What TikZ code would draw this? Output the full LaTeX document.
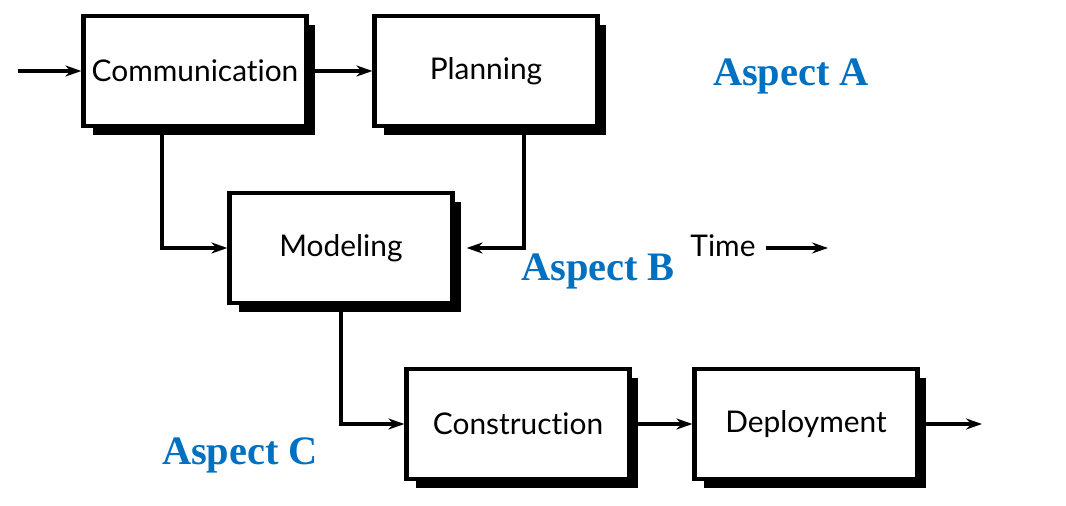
\documentclass[tikz,border=0pt]{standalone}
\usepackage{fontspec}
\usepackage{xcolor}
\usepackage{tikz}
\usetikzlibrary{shadows,arrows.meta}
\newfontfamily\boxfont[Ligatures=NoCommon]{Lato}
\newfontfamily\aspectfont{Liberation Serif}
\definecolor{aspectblue}{RGB}{0,112,192}

\begin{document}
\begin{tikzpicture}[x=0.02cm, y=-0.02cm,
  stagebox/.style={draw, line width=2.4pt, fill=white, minimum width=4.46cm, minimum height=2.2cm,
    font=\boxfont\fontsize{17}{20}\selectfont,
    drop shadow={shadow xshift=0.18cm, shadow yshift=-0.18cm, fill=black, opacity=1}},
  flow/.style={-{Stealth[length=0.32cm, width=0.22cm]}, line width=2.1pt},
  aspect/.style={font=\aspectfont\bfseries\fontsize{23}{26}\selectfont, text=aspectblue}]
\useasboundingbox (0,0) rectangle (1066,506);
\node[stagebox] (comm) at (195,71)  {Communication};
\node[stagebox] (plan) at (486,71)  {Planning};
\node[stagebox] (model) at (341,248) {Modeling};
\node[stagebox] (cons) at (518,424) {Construction};
\node[stagebox] (dep) at (806,424)  {Deployment};
\coordinate (in) at (18,71);
\coordinate (out) at (982,424);
\node[font=\boxfont\fontsize{17}{20}\selectfont] (time) at (723,246) {Time};
\coordinate (timeend) at (828,248);
\draw[flow] (in) -- (comm.west);
\draw[flow] (comm.east) -- (plan.west);
\draw[flow] ([xshift=-0.66cm]comm.south) |- (model.west);
\draw[flow] ([xshift=0.76cm]plan.south) |- ([xshift=0.24cm]model.east);
\draw[flow] (model.south) |- (cons.west);
\draw[flow] (cons.east) -- (dep.west);
\draw[flow] (dep.east) -- (out);
\draw[flow] ([xshift=0.08cm]time.east |- timeend) -- (timeend);
\node[aspect] (aspA) at (791,76)  {Aspect A};
\node[aspect] (aspB) at (598,271) {Aspect B};
\node[aspect] (aspC) at (240,455) {Aspect C};
\end{tikzpicture}
\end{document}
